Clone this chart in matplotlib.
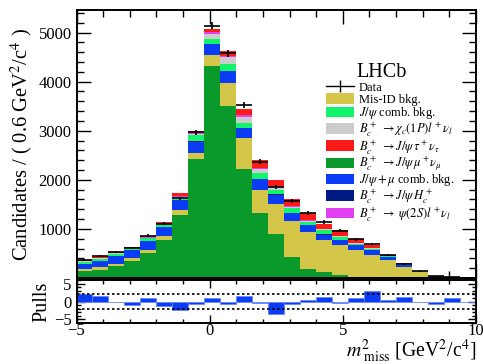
import numpy as np
import matplotlib
matplotlib.use("Agg")
import matplotlib.pyplot as plt
from matplotlib.ticker import MultipleLocator, FixedLocator
from matplotlib.lines import Line2D
from matplotlib.patches import Patch, Rectangle
from matplotlib.legend_handler import HandlerPatch

plt.rcParams['font.family'] = ['Liberation Serif', 'DejaVu Serif']
plt.rcParams['mathtext.fontset'] = 'stix'

# bin edges: 25 bins of 0.6 GeV^2/c^4 from -5 to 10
bin_lo = -5.0
bin_w = 0.6
n_bins = 25

data = [375, 443, 537, 606, 865, 1110, 1620, 2965, 5143, 4579, 3524, 2367, 1857,
        1572, 1327, 1143, 959, 789, 690, 463, 290, 137, 35, 20, 8]

sig_mu = [143, 170, 239, 347, 510, 783, 1280, 2415, 4327, 3504, 2212, 1320, 905,
          429, 191, 123, 55, 30, 15, 8, 4, 2, 0, 0, 0]
misid = [48, 48, 41, 55, 68, 74, 102, 136, 218, 476, 633, 470, 595,
         728, 748, 646, 612, 535, 462, 367, 221, 114, 30, 15, 5]
comb_mu = [102, 129, 163, 163, 177, 184, 204, 225, 224, 238, 216, 218, 200,
           170, 136, 117, 102, 102, 88, 54, 37, 12, 4, 2, 1]
jpsi_hc = [1, 1, 1, 2, 2, 3, 4, 6, 8, 7, 5, 3, 2, 1, 1, 1, 0, 0, 0, 0, 0, 0, 0, 0, 0]
jpsi_comb = [34, 41, 54, 27, 48, 34, 34, 122, 102, 129, 89, 135, 90,
             89, 68, 87, 68, 34, 35, 16, 10, 4, 1, 1, 0]
chic = [10, 12, 12, 12, 15, 18, 30, 35, 102, 150, 123, 69, 60,
        34, 27, 17, 13, 11, 10, 5, 4, 2, 0, 0, 0]
psi2s = [5, 5, 6, 6, 7, 7, 17, 17, 27, 27, 33, 33, 30,
         20, 20, 15, 10, 8, 5, 2, 2, 1, 0, 0, 0]
tau = [19, 38, 23, 23, 26, 37, 55, 44, 55, 102, 137, 157, 120,
       130, 137, 91, 113, 83, 66, 18, 22, 5, 3, 2, 1]

pulls = [2.1, 1.6, -0.1, -1.1, 1.1, -1.3, -2.5, -0.7, 1.1, -0.8, 1.4, -0.4, -3.6,
         -0.8, 0.4, 1.3, -0.4, 0.9, 2.8, 0.3, 1.3, -0.2, -0.6, 0.9, -0.1]

# stacking order bottom -> top
components = [
    ("sig_mu", sig_mu, "#0a9a2c", r"$B_c^+\ \rightarrow J/\psi\,\mu^+\nu_\mu$"),
    ("misid", misid, "#d4c648", "Mis-ID bkg."),
    ("comb_mu", comb_mu, "#0a3cf5", r"$J/\psi+\mu$ comb. bkg."),
    ("jpsi_hc", jpsi_hc, "#001c84", r"$B_c^+\ \rightarrow J/\psi\,H_c^+$"),
    ("jpsi_comb", jpsi_comb, "#12f46a", r"$J/\psi$ comb. bkg."),
    ("chic", chic, "#cccccc", r"$B_c^+\ \rightarrow \chi_c(1P)l^+\nu_l$"),
    ("psi2s", psi2s, "#e040f0", r"$B_c^+\ \rightarrow\ \psi(2S)l^+\nu_l$"),
    ("tau", tau, "#ff1a1a", r"$B_c^+\ \rightarrow J/\psi\,\tau^+\nu_\tau$"),
]
legend_order = ["misid", "jpsi_comb", "chic", "tau", "sig_mu", "comb_mu", "jpsi_hc", "psi2s"]

centers = bin_lo + bin_w * (np.arange(n_bins) + 0.5)

W, H = 483, 364
fig = plt.figure(figsize=(W / 100, H / 100), dpi=100)
L, R = 76.5 / W, 476 / W
ax = fig.add_axes([L, 1 - 278 / H, R - L, (278 - 10) / H])
axp = fig.add_axes([L, 1 - 323 / H, R - L, (323 - 280) / H], sharex=ax)

bottom = np.zeros(n_bins)
handles = {}
for key, vals, col, lab in components:
    v = np.array(vals, dtype=float)
    ax.bar(centers, v, width=bin_w, bottom=bottom, color=col, edgecolor='none',
           linewidth=0, zorder=2)
    bottom += v
    handles[key] = (Patch(facecolor=col, edgecolor='none'), lab)

d = np.array(data, dtype=float)
ax.errorbar(centers, d, xerr=bin_w / 2, yerr=np.sqrt(d), fmt='none', ecolor='black',
            elinewidth=1.2, capsize=0, zorder=5)

ax.set_xlim(-5, 10)
ax.set_ylim(0, 5460)
ax.yaxis.set_major_locator(FixedLocator([1000, 2000, 3000, 4000, 5000]))
ax.yaxis.set_minor_locator(MultipleLocator(200))
ax.xaxis.set_major_locator(MultipleLocator(5))
ax.xaxis.set_minor_locator(MultipleLocator(1))
for a in (ax, axp):
    a.tick_params(which='both', direction='in', top=True, right=True, width=1.0)
    a.tick_params(which='major', length=10)
    a.tick_params(which='minor', length=5)
    for s in a.spines.values():
        s.set_linewidth(1.4)
ax.tick_params(labelbottom=False, labelsize=12)
ax.set_ylabel(r"Candidates / ( 0.6 GeV$^2$/c$^4$ )", fontsize=14.8, labelpad=3)


def small_patch(legend, orig_handle, xdescent, ydescent, width, height, fontsize):
    h = height * 0.92
    return Rectangle((-xdescent, -ydescent + (height - h) / 2), width, h)


# legend
leg_handles = [Line2D([0], [0], color='black', lw=1.0, marker='|', markersize=8,
                      markeredgewidth=1.0)]
leg_labels = ["Data"]
for k in legend_order:
    leg_handles.append(handles[k][0])
    leg_labels.append(handles[k][1])
leg = ax.legend(leg_handles, leg_labels, loc='upper left', bbox_to_anchor=(0.625, 0.737),
                frameon=False, fontsize=9.0, handlelength=2.2, handleheight=1.05,
                labelspacing=-0.06, handletextpad=0.4, borderpad=0.0, borderaxespad=0.0,
                handler_map={Patch: HandlerPatch(patch_func=small_patch)})
ax.text(0.70, 0.767, "LHCb", transform=ax.transAxes, fontsize=14.5, ha='left',
        va='center')

# pulls
pv = np.array(pulls)
axp.bar(centers, pv, width=bin_w, color='#0a3cf5', edgecolor='#6a86ff', linewidth=0.6,
        zorder=2)
axp.axhline(2, color='black', ls=(0, (1.5, 1.5)), lw=1.2, zorder=3)
axp.axhline(-2, color='black', ls=(0, (1.5, 1.5)), lw=1.2, zorder=3)
axp.set_ylim(-6, 6)
axp.yaxis.set_major_locator(FixedLocator([-5, 0, 5]))
axp.yaxis.set_minor_locator(MultipleLocator(1))
axp.tick_params(which='major', length=6)
axp.tick_params(which='minor', length=3)
axp.tick_params(labelsize=12)
axp.tick_params(axis='x', pad=0.2)
axp.set_yticklabels(["\u22125", "0", "5"])
axp.set_xticks([-5, 0, 5, 10])
axp.set_xticklabels(["\u22125", "0", "5", "10"])
axp.set_ylabel("Pulls", fontsize=14.5, labelpad=2)
fig.text(476 / W, 1 - 356.5 / H, r"$m^2_{\rm\ miss}$ [GeV$^2$/c$^4$]", fontsize=14.2,
         ha='right', va='baseline')

fig.savefig("out.png", dpi=100)
